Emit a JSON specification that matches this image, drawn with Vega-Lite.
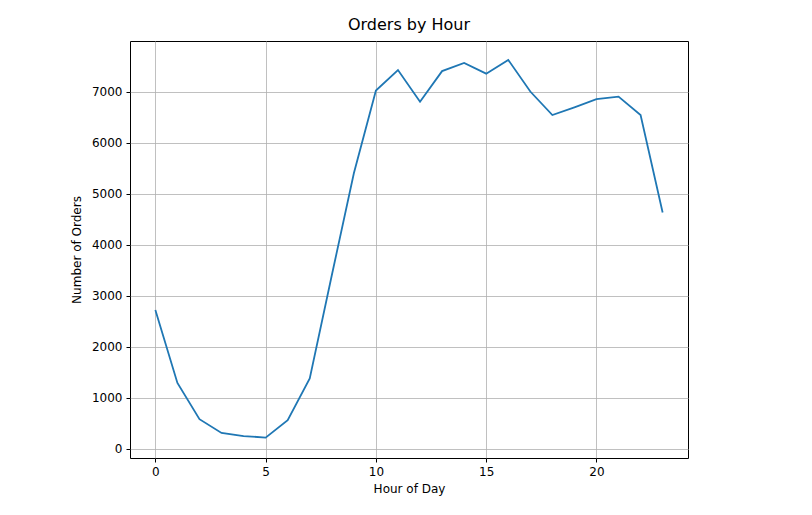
{
  "$schema": "https://vega.github.io/schema/vega-lite/v6.json",
  "width": 558,
  "height": 417,
  "autosize": "none",
  "padding": {"left": 130, "top": 41, "right": 124, "bottom": 57},
  "background": "white",
  "title": {"text": "Orders by Hour", "font": "DejaVu Sans", "fontSize": 16, "fontWeight": "normal", "color": "black", "offset": 8},
  "data": {
    "values": [
      {"hour": 0, "orders": 2720}, {"hour": 1, "orders": 1290}, {"hour": 2, "orders": 580},
      {"hour": 3, "orders": 310}, {"hour": 4, "orders": 250}, {"hour": 5, "orders": 220},
      {"hour": 6, "orders": 560}, {"hour": 7, "orders": 1380}, {"hour": 8, "orders": 3400},
      {"hour": 9, "orders": 5400}, {"hour": 10, "orders": 7020}, {"hour": 11, "orders": 7420},
      {"hour": 12, "orders": 6800}, {"hour": 13, "orders": 7400}, {"hour": 14, "orders": 7560},
      {"hour": 15, "orders": 7350}, {"hour": 16, "orders": 7620}, {"hour": 17, "orders": 7000},
      {"hour": 18, "orders": 6540}, {"hour": 19, "orders": 6690}, {"hour": 20, "orders": 6850},
      {"hour": 21, "orders": 6900}, {"hour": 22, "orders": 6540}, {"hour": 23, "orders": 4630}
    ]
  },
  "mark": {"type": "line", "color": "#1f77b4", "strokeWidth": 1.8},
  "encoding": {
    "x": {
      "field": "hour", "type": "quantitative", "title": "Hour of Day",
      "scale": {"domain": [-1.15, 24.15], "nice": false, "zero": false},
      "axis": {"values": [0, 5, 10, 15, 20], "format": "d"}
    },
    "y": {
      "field": "orders", "type": "quantitative", "title": "Number of Orders",
      "scale": {"domain": [-180, 7990], "nice": false, "zero": false},
      "axis": {"values": [0, 1000, 2000, 3000, 4000, 5000, 6000, 7000], "format": "d"}
    }
  },
  "config": {
    "font": "DejaVu Sans",
    "view": {"stroke": "black", "strokeWidth": 1},
    "axis": {
      "grid": true, "gridColor": "#b0b0b0", "gridWidth": 0.8, "gridOpacity": 1,
      "domain": false, "ticks": true, "tickColor": "black", "tickSize": 4,
      "labelFont": "DejaVu Sans", "labelFontSize": 12, "labelColor": "black", "labelPadding": 4,
      "titleFont": "DejaVu Sans", "titleFontSize": 12, "titleFontWeight": "normal", "titleColor": "black"
    },
    "axisX": {"titlePadding": 6},
    "axisY": {"titlePadding": 8}
  }
}
